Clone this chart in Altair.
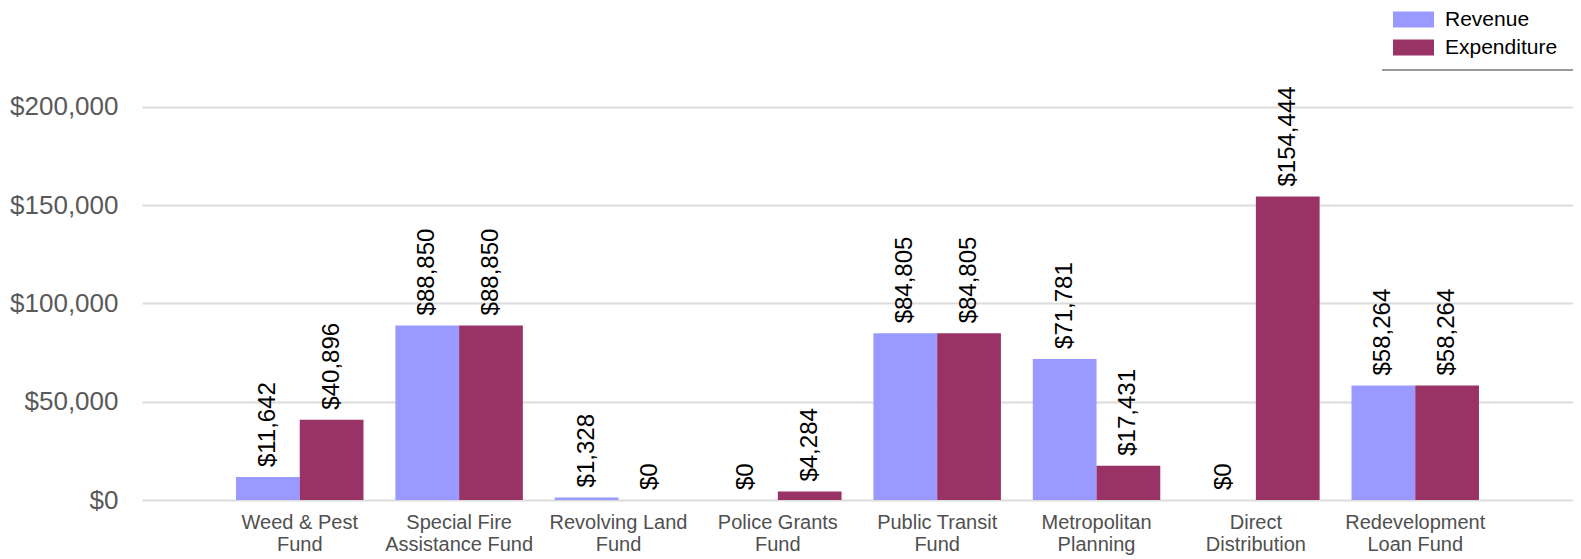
import altair as alt
import pandas as pd

categories = [
    "Weed & Pest\nFund",
    "Special Fire\nAssistance Fund",
    "Revolving Land\nFund",
    "Police Grants\nFund",
    "Public Transit\nFund",
    "Metropolitan\nPlanning",
    "Direct\nDistribution",
    "Redevelopment\nLoan Fund",
]
revenue = [11642, 88850, 1328, 0, 84805, 71781, 0, 58264]
expenditure = [40896, 88850, 0, 4284, 84805, 17431, 154444, 58264]
series = ["Revenue", "Expenditure"]
colors = ["#9999ff", "#993366"]
y_ticks = [0, 50000, 100000, 150000, 200000]

rows = []
for c, r, e in zip(categories, revenue, expenditure):
    rows.append({"fund": c, "series": "Revenue", "value": r})
    rows.append({"fund": c, "series": "Expenditure", "value": e})
df = pd.DataFrame(rows)

FONT = "Liberation Sans"
W = 1431
H = 434

x_enc = alt.X(
    "fund:N",
    sort=categories,
    scale=alt.Scale(paddingInner=0.2, paddingOuter=0.59),
    axis=alt.Axis(
        title=None,
        labelExpr="split(datum.label, '\\n')",
        labelFontSize=20,
        labelColor="#505050",
        labelFont=FONT,
        labelPadding=12,
        labelLineHeight=22,
        labelAngle=0,
        labelLimit=400,
        ticks=False,
        domain=False,
        grid=False,
    ),
)
xoff_enc = alt.XOffset("series:N", sort=series, scale=alt.Scale(domain=series, paddingInner=0, paddingOuter=0))
y_enc = alt.Y(
    "value:Q",
    scale=alt.Scale(domain=[0, 220865], nice=False),
    axis=alt.Axis(
        title=None,
        values=y_ticks,
        format="$,.0f",
        labelFontSize=26,
        labelColor="#595959",
        labelFont=FONT,
        labelPadding=24,
        ticks=False,
        domain=False,
        gridColor="#dcdcdc",
        gridWidth=2,
    ),
)

base = alt.Chart(df)

bars = base.mark_bar().encode(
    x=x_enc,
    xOffset=xoff_enc,
    y=y_enc,
    color=alt.Color(
        "series:N",
        sort=series,
        scale=alt.Scale(domain=series, range=colors),
        legend=alt.Legend(
            title=None,
            orient="none",
            legendX=1261,
            legendY=-57,
            padding=0,
            symbolType="M-2.05,-0.8H2.05V0.8H-2.05Z",
            symbolSize=400,
            symbolStrokeWidth=0,
            symbolOpacity=1,
            rowPadding=6,
            labelFontSize=21,
            labelFont=FONT,
            labelColor="black",
            labelOffset=21,
        ),
    ),
)

labels = base.mark_text(
    angle=270, align="left", baseline="middle", dx=10, fontSize=24, font=FONT, color="black"
).encode(
    x=alt.X("fund:N", sort=categories),
    xOffset=alt.XOffset("series:N", sort=series),
    y=alt.Y("value:Q"),
    text=alt.Text("value:Q", format="$,.0f"),
)

underline = alt.Chart(pd.DataFrame({"k": [0]})).mark_rule(color="#999999", strokeWidth=2).encode(
    x=alt.value(1240), x2=alt.value(W), y=alt.value(4)
)

chart = (
    alt.layer(bars, labels, underline)
    .properties(
        width=W,
        height=H,
        autosize=alt.AutoSizeParams(type="none"),
        padding={"left": 134, "top": 58, "right": 0, "bottom": 60},
    )
    .configure_view(stroke=None)
)

chart.save("out.html", embed_options={"renderer": "svg", "actions": False})
